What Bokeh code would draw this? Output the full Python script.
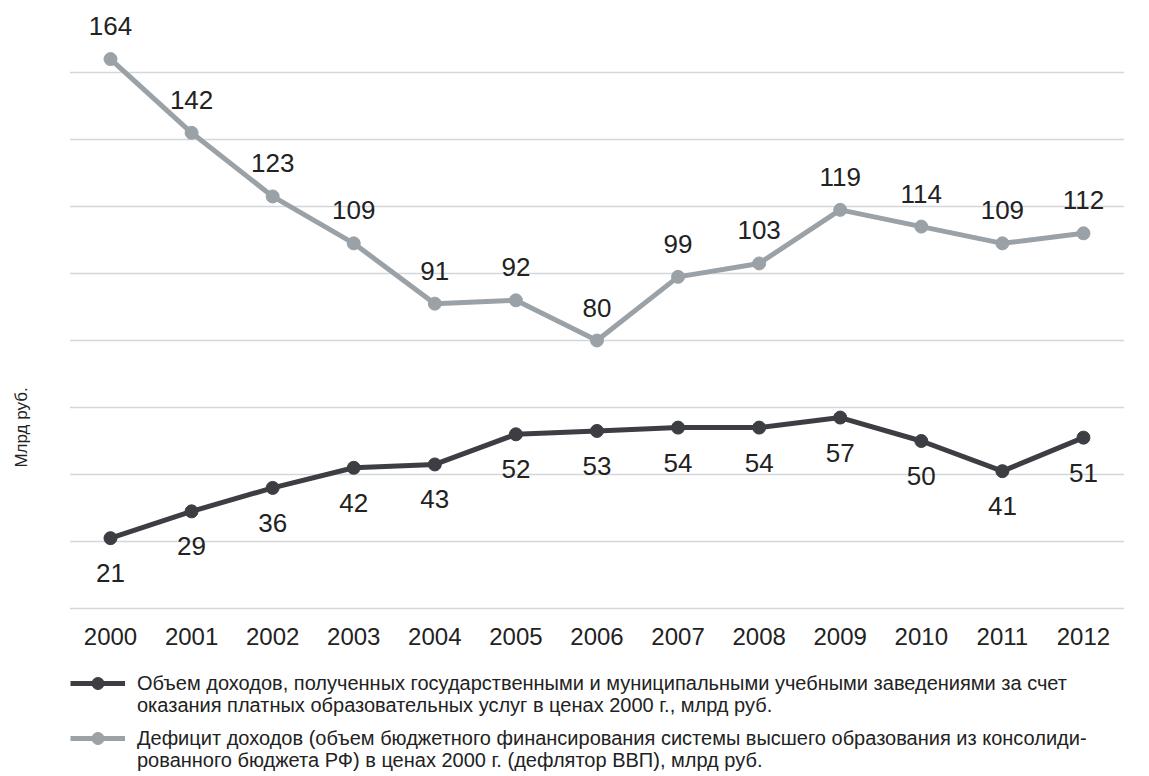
from math import pi
from bokeh.plotting import figure
from bokeh.models import Range1d, FixedTicker, Legend, LegendItem, Label, ColumnDataSource
from bokeh.core.properties import value
from bokeh.embed import file_html
from bokeh.resources import INLINE

years = ["2000", "2001", "2002", "2003", "2004", "2005", "2006", "2007", "2008", "2009", "2010", "2011", "2012"]
income = [21, 29, 36, 42, 43, 52, 53, 54, 54, 57, 50, 41, 51]
deficit = [164, 142, 123, 109, 91, 92, 80, 99, 103, 119, 114, 109, 112]
grid_ticks = [0, 20, 40, 60, 80, 100, 120, 140, 160]

label_income = ["Объем доходов, полученных государственными и муниципальными учебными заведениями за счет",
                "оказания платных образовательных услуг в ценах 2000 г., млрд руб."]
label_deficit = ["Дефицит доходов (объем бюджетного финансирования системы высшего образования из консолиди-",
                 "рованного бюджета РФ) в ценах 2000 г. (дефлятор ВВП), млрд руб."]
y_axis_label = "Млрд руб."

FONT = "Liberation Sans"
DARK = "#3c3e43"
GREY = "#9ba2a7"
TXT = "#222222"

W, H = 1149, 776
PX_X = 81.08   # px per category
PX_Y = 3.35    # px per unit
X0, Y0 = 110, 608  # screen position of first category / zero

idx = list(range(len(years)))
src = ColumnDataSource(dict(x=idx, inc=income, de=deficit,
                            inc_t=[str(v) for v in income], de_t=[str(v) for v in deficit]))

p = figure(x_range=Range1d(-X0 / PX_X, (W - X0) / PX_X),
           y_range=Range1d(-(H - Y0) / PX_Y, Y0 / PX_Y),
           frame_width=W, frame_height=H, min_border=0,
           output_backend="svg", toolbar_location=None)
p.outline_line_color = None
p.background_fill_color = "white"
p.yaxis.visible = False
p.xgrid.visible = False
p.ygrid.visible = False

# horizontal grid lines spanning the category slots
p.segment(x0=[-0.5] * len(grid_ticks), x1=[len(years) - 0.5] * len(grid_ticks),
          y0=grid_ticks, y1=grid_ticks, line_color="#d3d7d9", line_width=1.6)

ax = p.xaxis[0]
ax.fixed_location = 0
ax.ticker = FixedTicker(ticks=idx)
ax.major_label_overrides = {i: y for i, y in zip(idx, years)}
ax.axis_line_color = None
ax.major_tick_line_color = None
ax.minor_tick_line_color = None
ax.major_label_text_font = FONT
ax.major_label_text_font_size = "24px"
ax.major_label_text_color = TXT
ax.major_label_standoff = 13

l1 = p.line("x", "inc", source=src, line_color=DARK, line_width=5)
s1 = p.scatter("x", "inc", source=src, size=13, fill_color=DARK, line_color=DARK)
l2 = p.line("x", "de", source=src, line_color=GREY, line_width=5)
s2 = p.scatter("x", "de", source=src, size=13, fill_color=GREY, line_color=GREY)

p.text("x", "de", text="de_t", source=src, text_font=value(FONT), text_font_size="26px",
       text_color=TXT, text_align="center", text_baseline="middle", y_offset=-33)
p.text("x", "inc", text="inc_t", source=src, text_font=value(FONT), text_font_size="26px",
       text_color=TXT, text_align="center", text_baseline="middle", y_offset=35)

p.add_layout(Label(x=21, y=H - 427, x_units="screen", y_units="screen", text=y_axis_label,
                   angle=pi / 2, text_align="center", text_baseline="middle",
                   text_font=FONT, text_font_size="17px", text_color=TXT))


def legend_row(text, renderers, loc, gh):
    lg = Legend(items=[LegendItem(label=text, renderers=renderers)], orientation="vertical",
                location=loc, label_text_font=FONT, label_text_font_size="20px",
                label_text_color=TXT, glyph_width=55, glyph_height=gh, label_height=14,
                label_standoff=12, spacing=0, padding=0, margin=0,
                border_line_alpha=0, background_fill_alpha=0)
    p.add_layout(lg, "center")


legend_row(label_income[0], [l1, s1], (70, 78), 30)
legend_row(label_income[1], [], (70, 59), 14)
legend_row(label_deficit[0], [l2, s2], (70, 23), 30)
legend_row(label_deficit[1], [], (70, 4), 14)

open("out.html", "w").write(file_html(p, INLINE))
